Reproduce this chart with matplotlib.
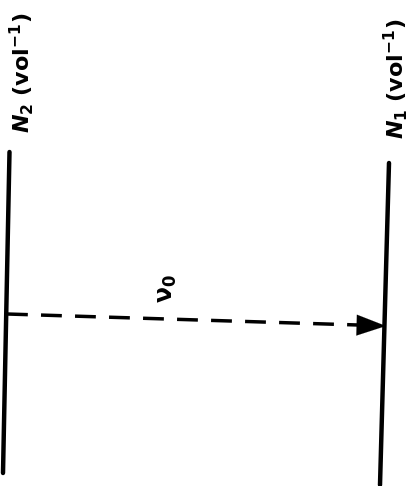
import matplotlib
matplotlib.use("Agg")
import matplotlib.pyplot as plt

plt.rcParams["mathtext.fontset"] = "custom"
plt.rcParams["mathtext.rm"] = "DejaVu Sans:bold"
plt.rcParams["mathtext.it"] = "DejaVu Sans:italic:bold"
plt.rcParams["mathtext.bf"] = "DejaVu Sans:bold"

# Diagram elements (pixel coordinates of the 414x486 canvas, y downward)
level_names = ["N2", "N1"]
level_top = [(9.5, 152), (389, 163)]
level_bottom = [(3, 473), (380, 485)]
level_labels = [r"$N_2$ (vol$^{-1}$)", r"$N_1$ (vol$^{-1}$)"]
label_pos = [(22, 73), (396, 79)]
arrow_start = (7, 314)
arrow_end = (386, 326)
arrow_label = r"$\mathrm{\nu}_{0}$"
arrow_label_pos = (167, 289)

fig = plt.figure(figsize=(4.14, 4.86), dpi=100)
ax = fig.add_axes([0, 0, 1, 1])
ax.set_xlim(0, 414)
ax.set_ylim(486, 0)
ax.axis("off")

for (x0, y0), (x1, y1) in zip(level_top, level_bottom):
    ax.plot([x0, x1], [y0, y1], color="black", lw=3.2, solid_capstyle="round")

ax.plot([arrow_start[0], arrow_end[0] - 28], [arrow_start[1], arrow_end[1] - 1],
        color="black", lw=2.5, dashes=(6, 3.8))
ax.annotate("", xy=arrow_end, xytext=(arrow_end[0] - 34, arrow_end[1] - 1),
            arrowprops=dict(arrowstyle="-|>,head_length=1.4,head_width=0.5",
                            mutation_scale=15, color="black", lw=0.1,
                            shrinkA=0, shrinkB=0))

for txt, (x, y) in zip(level_labels, label_pos):
    ax.text(x, y, txt, rotation=90, ha="center", va="center",
            fontsize=16, fontweight="bold", color="black")

ax.text(arrow_label_pos[0], arrow_label_pos[1], arrow_label, rotation=90,
        ha="center", va="center", fontsize=17, color="black")

fig.savefig("out.png", dpi=100)
